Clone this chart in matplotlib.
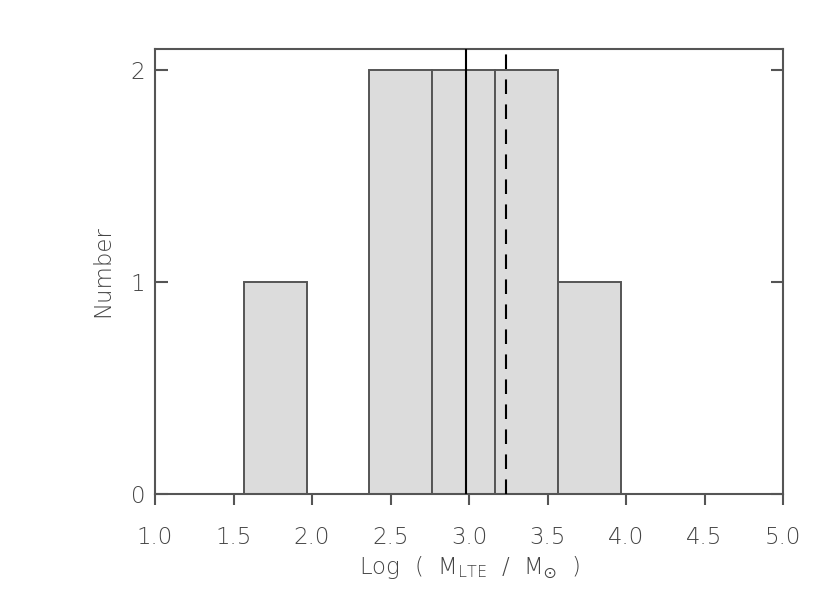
import numpy as np
import matplotlib.pyplot as plt
import matplotlib as mpl

# histogram of log masses
bin_left = [1.565, 1.965, 2.365, 2.765, 3.165, 3.565]
counts = [1, 0, 2, 2, 2, 1]
bin_width = 0.4
median_val = 2.982
mean_val = 3.236

xticks = [1.0, 1.5, 2.0, 2.5, 3.0, 3.5, 4.0, 4.5, 5.0]
yticks = [0, 1, 2]

grey = '#555555'
txt = '#444444'
mpl.rcParams['font.size'] = 16.5
mpl.rcParams['font.weight'] = 'light'
mpl.rcParams['axes.labelweight'] = 'light'
mpl.rcParams['text.color'] = txt
mpl.rcParams['axes.labelcolor'] = txt
mpl.rcParams['mathtext.default'] = 'regular'

fig = plt.figure(figsize=(8.3, 5.93), dpi=100)
ax = fig.add_axes([155 / 830, 99 / 593, 628 / 830, 445 / 593])

ax.bar(bin_left, counts, width=bin_width, align='edge',
       facecolor='#dcdcdc', edgecolor=grey, linewidth=1.4, zorder=1)
ax.axvline(median_val, color='black', linewidth=1.5, zorder=3)
ax.axvline(mean_val, color='black', linewidth=1.5, linestyle=(0, (7, 5)), zorder=3)

ax.set_xlim(1.0, 5.0)
ax.set_ylim(0, 2.1)
ax.set_xticks(xticks)
ax.set_xticklabels(['%.1f' % t for t in xticks])
ax.set_yticks(yticks)

for s in ax.spines.values():
    s.set_color(grey)
    s.set_linewidth(1.5)

ax.tick_params(axis='x', direction='out', length=8, width=1.5, color=grey,
               labelcolor=txt, pad=15)
ax.tick_params(axis='y', direction='in', length=9, width=1.5, color=grey,
               labelcolor=txt, right=True, pad=7)

ax.set_xlabel(r'Log  (  M$_{\rm LTE}$  /  M$_{\odot}$  )', labelpad=4)
ax.set_ylabel('Number', labelpad=12)

plt.savefig('out.png', dpi=100)
